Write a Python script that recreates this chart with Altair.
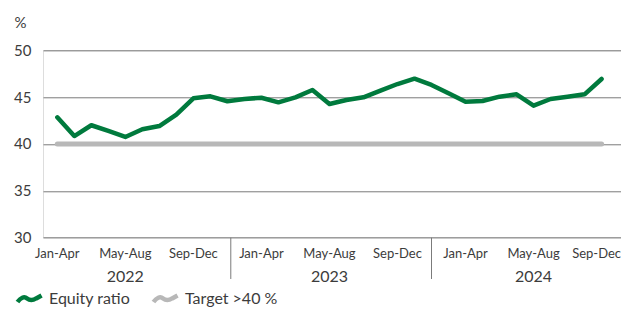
import altair as alt
import pandas as pd

# ---- data ----
months_idx = list(range(33))
equity_ratio = [42.85, 40.85, 42.0, 41.39, 40.75, 41.57, 41.92, 43.13, 44.88, 45.09,
                44.56, 44.8, 44.94, 44.45, 44.98, 45.76, 44.27, 44.7, 44.98, 45.69,
                46.4, 46.97, 46.3, 45.41, 44.51, 44.59, 45.05, 45.3, 44.09, 44.8,
                45.05, 45.3, 46.94]
target_x = [0, 32]
target_val = [40, 40]
series_names = ["Equity ratio", "Target >40 %"]
series_colors = ["#007A3D", "#B8B8B8"]
period_pos = [0, 4, 8, 12, 16, 20, 24, 28, 32]
period_labels = ["Jan-Apr", "May-Aug", "Sep-Dec"] * 3
year_pos = [4, 16, 28]
year_labels = ["2022", "2023", "2024"]
year_breaks = [10.2, 22.0]
y_ticks = [30, 35, 40, 45, 50]

FONT = "Lato"
TXT = "#3c3c3c"
W, H = 578, 187.4

df_eq = pd.DataFrame({"x": months_idx, "v": equity_ratio, "s": series_names[0]})
df_t = pd.DataFrame({"x": target_x, "v": target_val, "s": series_names[1]})
df_p = pd.DataFrame({"x": period_pos, "lab": period_labels})
df_y = pd.DataFrame({"x": year_pos, "lab": year_labels})
df_b = pd.DataFrame({"x": year_breaks})

xscale = alt.Scale(domain=[-0.84, 33.14], nice=False, zero=False)
yscale = alt.Scale(domain=[30, 50], nice=False, zero=False)
cscale = alt.Scale(domain=series_names, range=series_colors)

wave = "M-1,0.25 C-0.75,-0.1 -0.45,-0.25 -0.2,-0.05 C0.05,0.15 0.3,0.1 0.55,-0.05 L1,-0.3"

yaxis = alt.Axis(values=y_ticks, grid=True, gridColor="#7a7a7a", gridWidth=1,
                 domain=False, ticks=False, labelPadding=12, labelFontSize=15,
                 labelColor=TXT, labelFont=FONT, title="%", titleAngle=0,
                 titleX=-29, titleY=-28, titleAlign="left", titleBaseline="middle",
                 titleFontWeight="normal", titleFontSize=15, titleColor=TXT, titleFont=FONT)

target = alt.Chart(df_t).mark_line(strokeWidth=5, strokeCap="round").encode(
    x=alt.X("x:Q", scale=xscale, axis=None),
    y=alt.Y("v:Q", scale=yscale, axis=yaxis),
    color=alt.Color("s:N", scale=cscale, legend=alt.Legend(
        orient="none", legendX=-28, legendY=234, direction="horizontal", title=None,
        symbolType=wave, symbolSize=580, symbolStrokeWidth=4.5, labelFontSize=16,
        labelColor=TXT, labelFont=FONT, labelOffset=5, columnPadding=13, padding=0)),
)

eq = alt.Chart(df_eq).mark_line(strokeWidth=4.5, strokeCap="round", strokeJoin="round").encode(
    x=alt.X("x:Q", scale=xscale, axis=None),
    y=alt.Y("v:Q", scale=yscale, axis=yaxis),
    color=alt.Color("s:N", scale=cscale),
)

plabels = alt.Chart(df_p).transform_filter("datum.x < 32").mark_text(
    fontSize=13, font=FONT, color=TXT, baseline="alphabetic").encode(
    x=alt.X("x:Q", scale=xscale, axis=None), y=alt.value(208), text="lab:N")

plabel_last = alt.Chart(df_p).transform_filter("datum.x >= 32").mark_text(
    fontSize=13, font=FONT, color=TXT, baseline="alphabetic", dx=-5).encode(
    x=alt.X("x:Q", scale=xscale, axis=None), y=alt.value(208), text="lab:N")

ylabels = alt.Chart(df_y).mark_text(fontSize=16, font=FONT, color=TXT, baseline="alphabetic").encode(
    x=alt.X("x:Q", scale=xscale, axis=None), y=alt.value(231.4), text="lab:N")

breaks = alt.Chart(df_b).mark_rule(color="#7a7a7a", strokeWidth=1).encode(
    x=alt.X("x:Q", scale=xscale, axis=None), y=alt.value(H), y2=alt.value(228.7))

chart = alt.layer(target, eq, plabels, plabel_last, ylabels, breaks).properties(
    width=W, height=H,
    autosize=alt.AutoSizeParams(type="none"),
    padding={"left": 35, "top": 42.3, "right": 0, "bottom": 70},
).configure_view(stroke=None).configure(font=FONT)

chart.save("out.html", embed_options={"renderer": "svg", "actions": False})
